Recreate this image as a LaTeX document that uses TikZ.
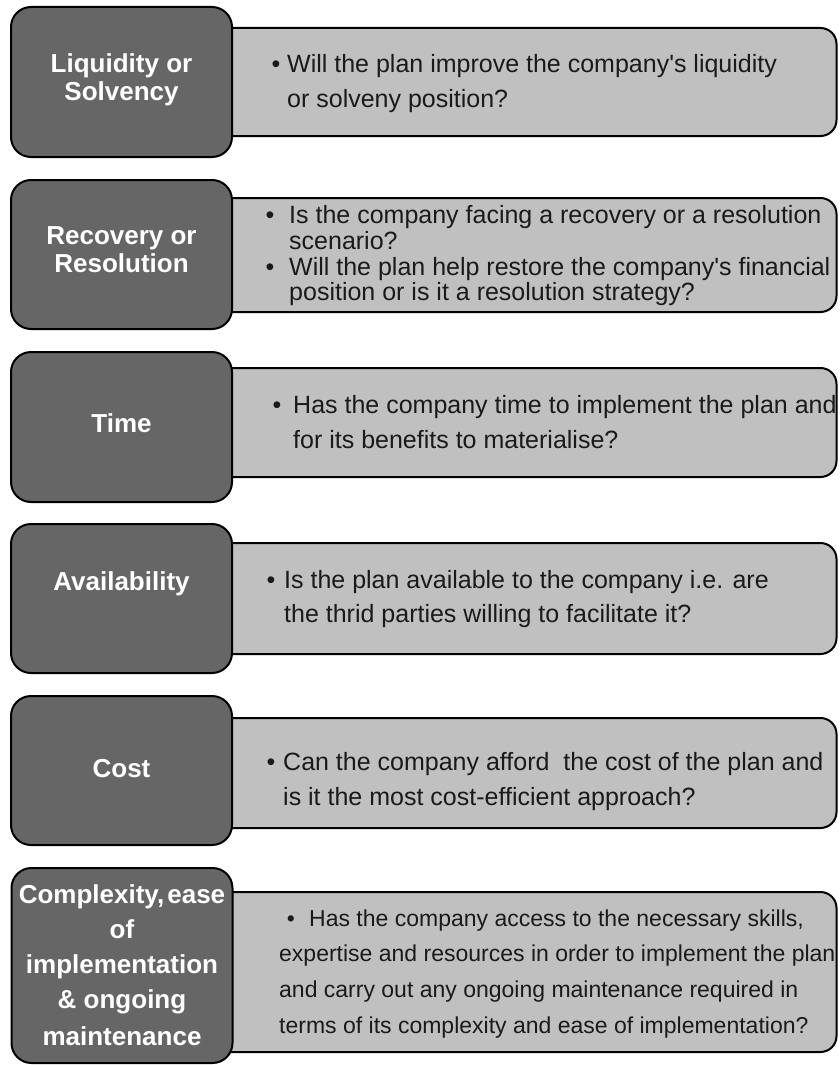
\documentclass[tikz,border=0pt]{standalone}
\usepackage{fontspec}
\setmainfont{Liberation Sans}
\definecolor{darkfill}{HTML}{666666}
\definecolor{lightfill}{HTML}{C0C0C0}
\definecolor{bodytext}{HTML}{1A1A1A}
\newcommand{\apo}{\textquotesingle}
\begin{document}
\begin{tikzpicture}[x=1pt,y=-1pt,
  darkbox/.style={draw=black, line width=2pt, fill=darkfill, rounded corners=20pt, inner sep=0pt, minimum width=221pt},
  lightbox/.style={draw=black, line width=2pt, fill=lightfill, rounded corners=16pt, inner sep=0pt, minimum width=688pt, anchor=east},
  lab/.style={text=white, font=\fontsize{26}{28}\selectfont\bfseries, anchor=base, inner sep=0pt},
  body/.style={text=bodytext, font=\fontsize{25}{30}\selectfont, anchor=base west, inner sep=0pt},
  bodys/.style={text=bodytext, font=\fontsize{23}{30}\selectfont, anchor=base west, inner sep=0pt},
  bul/.style={text=bodytext, font=\fontsize{25}{30}\selectfont, anchor=base, inner sep=0pt}]
\useasboundingbox (0,0) rectangle (839,1065);

% ---------- row 1 ----------
\node[lightbox, minimum height=108pt] (b1) at (837.5,82) {};
\node[darkbox, minimum height=150pt] (d1) at (121.5,82) {};
\node[lab] (l1a) at (121.5,72) {Liquidity or};
\node[lab] (l1b) at (121.5,100) {Solvency};
\node[bul] (u1) at (276,72) {•};
\node[body] (t1a) at (287,72) {Will the plan improve the company\apo s liquidity};
\node[body] (t1b) at (287,107) {or solveny position?};

% ---------- row 2 ----------
\node[lightbox, minimum height=114pt] (b2) at (837.5,255) {};
\node[darkbox, minimum height=149pt] (d2) at (121.5,254.5) {};
\node[lab] (l2a) at (121.5,244) {Recovery or};
\node[lab] (l2b) at (121.5,272) {Resolution};
\node[bul] (u2a) at (270,223) {•};
\node[bul] (u2b) at (270,275) {•};
\node[body] (t2a) at (289,223) {Is the company facing a recovery or a resolution};
\node[body] (t2b) at (289,249) {scenario?};
\node[body] (t2c) at (289,275) {Will the plan help restore the company\apo s financial};
\node[body] (t2d) at (289,300) {position or is it a resolution strategy?};

% ---------- row 3 ----------
\node[lightbox, minimum height=109pt] (b3) at (837.5,422.5) {};
\node[darkbox, minimum height=150pt] (d3) at (121.5,427) {};
\node[lab] (l3) at (121.5,432) {Time};
\node[bul] (u3) at (277,413) {•};
\node[body] (t3a) at (293,413) {Has the company time to implement the plan and};
\node[body] (t3b) at (293,448) {for its benefits to materialise?};

% ---------- row 4 ----------
\node[lightbox, minimum height=111pt] (b4) at (837.5,598.5) {};
\node[darkbox, minimum height=149pt] (d4) at (121.5,598.5) {};
\node[lab] (l4) at (121.5,590) {Availability};
\node[bul] (u4) at (271,588) {•};
\node[body] (t4a) at (284,588) {Is the plan available to the company i.e. are};
\node[body] (t4b) at (284,622) {the thrid parties willing to facilitate it?};

% ---------- row 5 ----------
\node[lightbox, minimum height=110pt] (b5) at (837.5,773) {};
\node[darkbox, minimum height=149pt] (d5) at (121.5,770.5) {};
\node[lab] (l5) at (121.5,777) {Cost};
\node[bul] (u5) at (271,770) {•};
\node[body] (t5a) at (283,770) {Can the company afford \ the cost of the plan and};
\node[body] (t5b) at (283,805) {is it the most cost-efficient approach?};

% ---------- row 6 ----------
\node[lightbox, minimum height=160pt] (b6) at (837.5,972) {};
\node[darkbox, minimum height=195pt] (d6) at (122,965.5) {};
\node[lab] (l6a) at (122,903) {Complexity,\hspace{0.12em}ease};
\node[lab] (l6b) at (122,938) {of};
\node[lab] (l6c) at (122,973) {implementation};
\node[lab] (l6d) at (122,1008) {\& ongoing};
\node[lab] (l6e) at (122,1045) {maintenance};
\node[bul, font=\fontsize{23}{30}\selectfont] (u6) at (291,926) {•};
\node[bodys] (t6a) at (309,926) {Has the company access to the necessary skills,};
\node[bodys] (t6b) at (279,961) {expertise and resources in order to implement the plan};
\node[bodys] (t6c) at (279,997) {and carry out any ongoing maintenance required in};
\node[bodys] (t6d) at (279,1033) {terms of its complexity and ease of implementation?};
\end{tikzpicture}
\end{document}
